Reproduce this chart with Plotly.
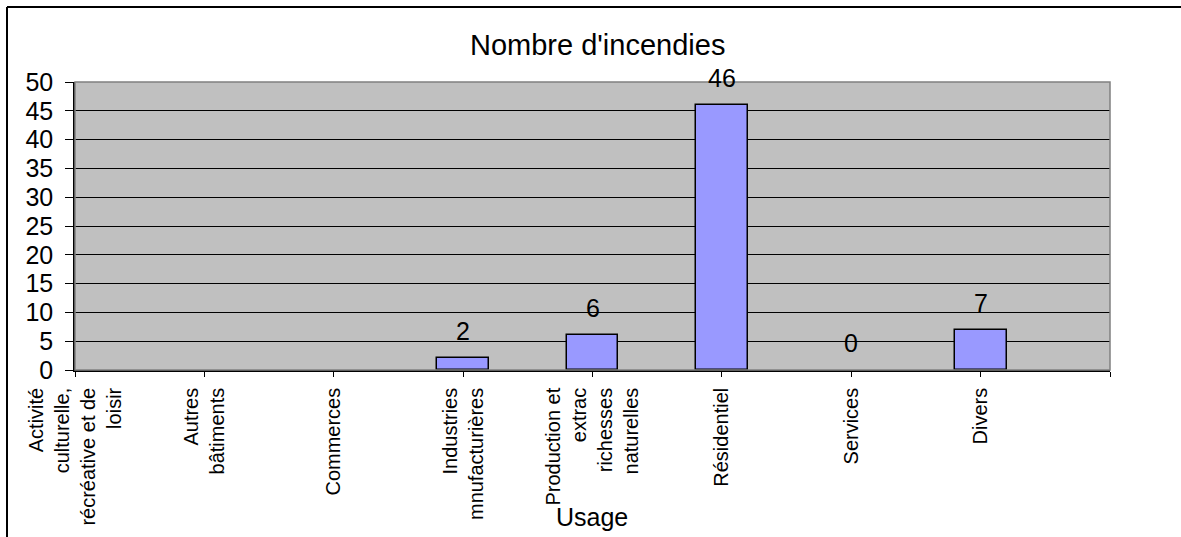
import plotly.graph_objects as go

# Chart data
categories = [
    "Activité<br>culturelle,<br>récréative et de<br>loisir",
    "Autres<br>bâtiments",
    "Commerces",
    "Industries<br>mnufacturières",
    "Production et<br>extrac<br>richesses<br>naturelles",
    "Résidentiel",
    "Services",
    "Divers",
    "",
]
fires = [None, None, None, 2, 6, 46, 0, 7]
y_ticks = [0, 5, 10, 15, 20, 25, 30, 35, 40, 45, 50]

W, H = 1181, 537
L, R, T, B = 75, 1110, 82, 370  # plot area in pixels
FONT = "Liberation Sans, Arial, sans-serif"


def px_x(p):
    return (p - L) / (R - L)


def px_y(p):
    return (B - p) / (B - T)


positions = list(range(len(fires)))

fig = go.Figure()
fig.add_trace(go.Bar(
    x=positions,
    y=fires,
    width=0.4,
    marker=dict(
        color="#9999FF",
        line=dict(color="black", width=[1.5 if v else 0 for v in fires]),
    ),
    hoverinfo="x+y",
))

annotations = []
for pos, v in zip(positions, fires):
    if v is None:
        continue
    annotations.append(dict(
        x=pos, y=v, xref="x", yref="y", text=str(v), showarrow=False,
        yanchor="bottom", yshift=11, font=dict(family=FONT, size=25, color="black"),
    ))

annotations.append(dict(
    x=px_x(597), y=px_y(45), xref="paper", yref="paper", text="Nombre d'incendies",
    showarrow=False, xanchor="center", yanchor="middle",
    font=dict(family=FONT, size=29, color="black"),
))
annotations.append(dict(
    x=px_x(592), y=px_y(517), xref="paper", yref="paper", text="Usage",
    showarrow=False, xanchor="center", yanchor="middle",
    font=dict(family=FONT, size=25, color="black"),
))

shapes = [
    # plot area outline (top/right in grey)
    dict(type="rect", xref="paper", yref="paper", x0=0, x1=1, y0=0, y1=1,
         line=dict(color="#808080", width=1.5), layer="above"),
    # outer chart frame: top and left edges (the rest runs off the page)
    dict(type="line", xref="paper", yref="paper",
         x0=px_x(7), x1=px_x(1181), y0=px_y(7), y1=px_y(7),
         line=dict(color="black", width=2)),
    dict(type="line", xref="paper", yref="paper",
         x0=px_x(7), x1=px_x(7), y0=px_y(7), y1=px_y(537),
         line=dict(color="black", width=2)),
]

fig.update_layout(
    width=W, height=H,
    margin=dict(l=L, r=W - R, t=T, b=H - B, pad=0),
    paper_bgcolor="white",
    plot_bgcolor="#C0C0C0",
    showlegend=False,
    bargap=0,
    annotations=annotations,
    shapes=shapes,
    font=dict(family=FONT, color="black"),
)

fig.update_xaxes(
    range=[0, len(categories) - 1],
    tickmode="array",
    tickvals=list(range(len(categories))),
    ticktext=categories,
    tickangle=-90,
    ticks="outside", ticklen=5, tickcolor="black", tickwidth=1,
    showgrid=False, zeroline=False,
    showline=True, linecolor="black", linewidth=1.5,
    tickfont=dict(family=FONT, size=20, color="black"),
    ticklabelstandoff=3,
)

fig.update_yaxes(
    range=[0, 50],
    tickmode="array",
    tickvals=y_ticks,
    ticks="outside", ticklen=8, tickcolor="black", tickwidth=1,
    showgrid=True, gridcolor="black", gridwidth=1,
    zeroline=False,
    showline=True, linecolor="black", linewidth=1.5,
    tickfont=dict(family=FONT, size=25, color="black"),
    ticklabelstandoff=7,
)

fig.write_html("out.html")
